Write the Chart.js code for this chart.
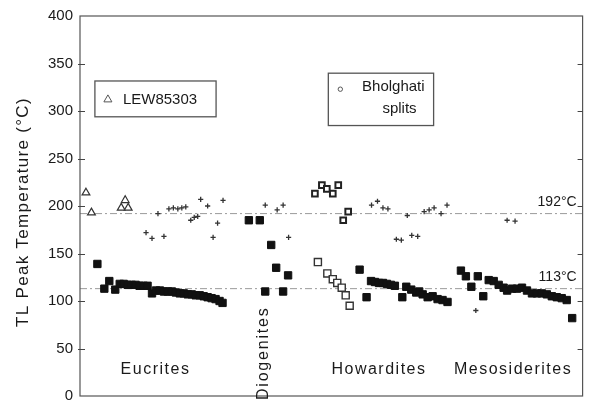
<!DOCTYPE html>
<html>
<head>
<meta charset="utf-8">
<script src="https://cdn.jsdelivr.net/npm/chart.js@4.4.1/dist/chart.umd.min.js"></script>
<style>
  html, body { margin: 0; padding: 0; background: #fff; }
</style>
</head>
<body>
<canvas id="graph" width="589" height="412"></canvas>
<script>
// lower TL peak (filled squares), x = sample position along the axis
const lowerX = [3.5, 4.9, 5.9, 7.1, 8.0, 8.8, 9.6, 10.4, 11.2, 12.0, 12.8, 13.6, 14.5, 15.3, 16.1, 16.9, 17.7, 18.5, 19.3, 20.1, 20.9, 21.7, 22.5, 23.3, 24.1, 24.9, 25.7, 26.5, 27.3, 28.1, 28.7,
  34.0, 36.2, 38.5, 39.5, 41.9, 37.3, 40.9,
  56.3, 57.7, 58.6, 59.4, 60.2, 61.0, 61.8, 62.6, 63.4, 64.9, 65.7, 66.7, 67.7, 68.3, 69.0, 70.0, 71.0, 72.0, 73.0, 74.0,
  76.7, 77.7, 78.8, 80.1, 81.2, 82.3, 83.3, 84.3, 85.3, 86.0, 87.0, 88.0, 89.0, 90.0, 91.0, 92.0, 93.0, 94.0, 95.0, 96.0, 97.0, 98.0, 99.1];
const lowerY = [139, 113, 121, 112, 118, 118, 117, 117, 117, 116, 116, 116, 108, 111, 111, 110, 110, 110, 109, 108, 108, 107, 107, 106, 106, 105, 104, 103, 102, 100, 98,
  185, 185, 159, 135, 127, 110, 110,
  133, 104, 121, 120, 119, 119, 118, 117, 116, 104, 115, 112, 109, 110, 107, 104, 105, 102, 101, 99,
  132, 126, 115, 126, 105, 122, 121, 117, 114, 111, 113, 113, 114, 111, 108, 108, 108, 107, 105, 104, 103, 101, 82];

// upper TL peak (small crosses)
const upperX = [13.3, 14.5, 15.7, 16.9, 17.9, 18.8, 19.7, 20.5, 21.3, 22.3, 23.0, 23.7, 24.3, 25.7, 26.8, 27.7, 28.8,
  37.3, 39.7, 40.9, 42.0,
  58.7, 59.9, 61.0, 62.0, 63.7, 64.7, 65.9, 66.8, 68.0, 69.3, 70.3, 71.3, 72.7, 73.9,
  79.7, 86.0, 87.6];
const upperY = [172, 166, 192, 168, 197, 198, 197, 198, 199, 185, 188, 189, 207, 200, 167, 182, 206,
  201, 196, 201, 167,
  201, 205, 198, 197, 165, 164, 190, 169, 168, 194, 196, 198, 192, 201,
  90, 185, 184];

// LEW85303 (open triangles)
const lewX = [1.2, 2.3, 8.3, 9.1, 9.7];
const lewY = [214, 193, 198, 206, 198];

// Bholghati splits (open squares), lower and upper peaks
const bholLowX = [47.9, 49.8, 50.9, 51.8, 52.7, 53.5, 54.3];
const bholLowY = [141, 129, 123, 119, 114, 106, 95];
const bholUpX = [47.3, 48.7, 49.7, 50.9, 52.0, 53.0, 54.0];
const bholUpY = [213, 222, 218, 213, 222, 185, 194];

// mean peak temperatures (dash-dot lines)
const refTemps = [192, 113];
const refLabels = ['192°C', '113°C'];

const groupNames = ['Eucrites', 'Diogenites', 'Howardites', 'Mesosiderites'];
const groupLabelX = [15.2, 37.0, 60.2, 87.2];
const groupLabelY = [27.6, 45, 27.6, 27.6];

const yTicks = { min: 0, max: 400, step: 50 };
const xMax = 101.2;

const toPts = (xs, ys) => xs.map((x, i) => ({ x: x, y: ys[i] }));
const FONT = "'Liberation Sans', Arial, sans-serif";

const extras = {
  id: 'extras',
  afterDraw(chart) {
    const c = chart.ctx;
    const a = chart.chartArea;
    const sx = chart.scales.x, sy = chart.scales.y;
    c.save();

    // frame
    c.strokeStyle = '#555';
    c.lineWidth = 1.2;
    c.strokeRect(a.left, a.top, a.right - a.left, a.bottom - a.top);

    // inward ticks left and right
    c.strokeStyle = '#444';
    c.lineWidth = 1;
    for (let v = yTicks.min + yTicks.step; v < yTicks.max; v += yTicks.step) {
      const y = Math.round(sy.getPixelForValue(v)) + 0.5;
      c.beginPath();
      c.moveTo(a.left - 2, y); c.lineTo(a.left + 5, y);
      c.moveTo(a.right - 5, y); c.lineTo(a.right, y);
      c.stroke();
    }

    c.fillStyle = '#1a1a1a';

    // y title
    c.save();
    c.translate(23, (a.top + a.bottom) / 2 + 6);
    c.rotate(-Math.PI / 2);
    c.font = '17px ' + FONT;
    c.letterSpacing = '1.3px';
    c.textAlign = 'center';
    c.textBaseline = 'middle';
    c.fillText('TL Peak Temperature (°C)', 0, 0);
    c.restore();

    // line labels
    c.font = '14px ' + FONT;
    c.textAlign = 'right';
    c.textBaseline = 'alphabetic';
    refTemps.forEach((t, i) => {
      c.fillText(refLabels[i], sx.getPixelForValue(100), sy.getPixelForValue(t) - 8);
    });

    // group labels
    c.font = '16px ' + FONT;
    c.letterSpacing = '1.5px';
    c.textAlign = 'center';
    c.textBaseline = 'middle';
    groupNames.forEach((g, i) => {
      const x = sx.getPixelForValue(groupLabelX[i]);
      const y = sy.getPixelForValue(groupLabelY[i]);
      if (g === 'Diogenites') {
        c.save();
        c.translate(x, y);
        c.rotate(-Math.PI / 2);
        c.letterSpacing = '1.8px';
        c.fillText(g, 0, 0);
        c.restore();
      } else {
        c.fillText(g, x, y);
      }
    });
    c.letterSpacing = '0px';

    // legend boxes
    c.strokeStyle = '#555';
    c.lineWidth = 1.3;
    const box = (x0, y0, x1, y1) => {
      const l = sx.getPixelForValue(x0), r = sx.getPixelForValue(x1);
      const t = sy.getPixelForValue(y0), b = sy.getPixelForValue(y1);
      c.strokeRect(l, t, r - l, b - t);
      return { l, r, t, b };
    };
    const b1 = box(3.0, 331.6, 27.4, 293.9);
    const my = (b1.t + b1.b) / 2;
    c.beginPath();
    c.moveTo(b1.l + 13, my - 4);
    c.lineTo(b1.l + 17, my + 3);
    c.lineTo(b1.l + 9, my + 3);
    c.closePath();
    c.lineWidth = 1;
    c.stroke();
    c.font = '15px ' + FONT;
    c.textAlign = 'left';
    c.fillText('LEW85303', b1.l + 28, my + 1);

    c.lineWidth = 1.3;
    const b2 = box(50.0, 339.8, 71.2, 284.7);
    c.lineWidth = 1;
    c.beginPath();
    c.arc(b2.l + 12, b2.t + 16, 2.2, 0, Math.PI * 2);
    c.stroke();
    c.textAlign = 'right';
    c.fillText('Bholghati', b2.r - 9, b2.t + 14);
    c.fillText('splits', b2.r - 17, b2.t + 36);

    c.restore();
  }
};

const datasets = [
  {
    label: 'lower peak',
    data: toPts(lowerX, lowerY),
    pointStyle: 'rect',
    pointRadius: 5.2,
    backgroundColor: '#111',
    borderColor: '#111',
    borderWidth: 1
  },
  {
    label: 'LEW85303',
    data: toPts(lewX, lewY),
    pointStyle: 'triangle',
    pointRadius: 4.5,
    backgroundColor: '#fff',
    borderColor: '#333',
    borderWidth: 1.2
  },
  {
    label: 'Bholghati splits',
    data: toPts(bholLowX, bholLowY),
    pointStyle: 'rect',
    pointRadius: 5,
    backgroundColor: '#fff',
    borderColor: '#333',
    borderWidth: 1.4
  },
  {
    label: 'Bholghati upper',
    data: toPts(bholUpX, bholUpY),
    pointStyle: 'rect',
    pointRadius: 4,
    backgroundColor: '#fff',
    borderColor: '#222',
    borderWidth: 2
  },
  {
    label: 'upper peak',
    data: toPts(upperX, upperY),
    pointStyle: 'cross',
    pointRadius: 2.6,
    borderColor: '#333',
    borderWidth: 1.3
  }
];
refTemps.forEach(t => {
  datasets.push({
    label: t + '°C',
    data: [{ x: 0, y: t }, { x: xMax, y: t }],
    showLine: true,
    pointRadius: 0,
    borderColor: '#9a9a9a',
    borderWidth: 1,
    borderDash: [7, 3, 2, 3]
  });
});

const myChart = new Chart(document.getElementById("graph"), {
  type: 'scatter',
  data: { datasets: datasets },
  options: {
    responsive: false,
    animation: false,
    layout: { padding: { top: 13, right: 3, bottom: 7, left: 0 } },
    plugins: {
      legend: { display: false },
      tooltip: { enabled: false }
    },
    scales: {
      x: { type: 'linear', min: 0, max: xMax, display: false },
      y: {
        min: yTicks.min,
        max: yTicks.max,
        ticks: {
          stepSize: yTicks.step,
          color: '#1a1a1a',
          padding: 7,
          font: { size: 15, family: FONT }
        },
        grid: { display: false, drawTicks: false },
        border: { display: false },
        afterFit(scale) { scale.width = 80; }
      }
    }
  },
  plugins: [extras]
});
</script>
</body>
</html>
